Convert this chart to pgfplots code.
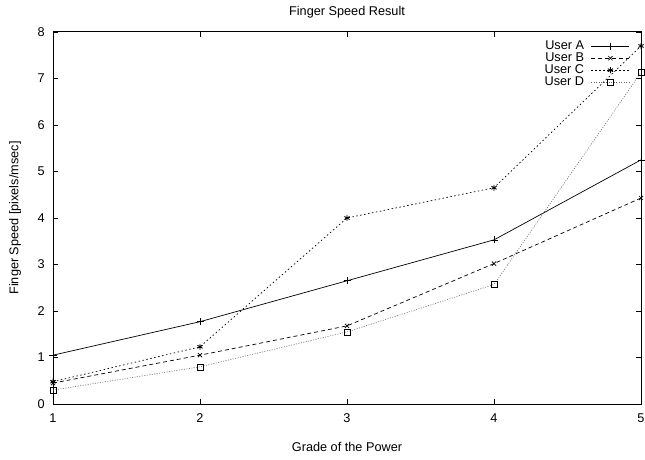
\documentclass[border=0pt]{standalone}
\usepackage{fontspec}
\setmainfont{Liberation Sans}
\usepackage{pgfplots}
\pgfplotsset{compat=1.18}
\begin{document}
\begin{tikzpicture}
\begin{axis}[
  scale only axis,
  width=588pt, height=372pt,
  xmin=1, xmax=5, ymin=0, ymax=8,
  xtick={1,2,3,4,5}, ytick={0,1,...,8},
  tick align=inside,
  major tick length=5pt,
  /pgf/number format/assume math mode=true,
  font=\fontsize{12.7}{14}\selectfont,
  title={Finger Speed Result},
  every axis title shift=0pt,
  title style={at={(axis description cs:0.5,1)}, anchor=base, yshift=16pt, inner sep=0pt},
  xlabel={Grade of the Power},
  ylabel={Finger Speed [pixels/msec]},
  xticklabel style={anchor=base, yshift=-18.5pt, inner sep=0pt},
  yticklabel style={anchor=east, xshift=-8pt, inner sep=0pt},
  xlabel style={at={(axis description cs:0.5,0)}, anchor=base, yshift=-47pt, inner sep=0pt},
  ylabel style={at={(axis description cs:0,0.5)}, anchor=center, yshift=38pt, inner sep=0pt},
  axis line style={line width=1pt},
  every tick/.style={black, line width=0.8pt},
  legend style={draw=none, fill=none, at={(rel axis cs:1,1)}, anchor=north east,
    xshift=-11pt, yshift=-8pt,
    row sep=0pt, column sep=7pt, inner sep=0pt, font=\fontsize{12.7}{12}\selectfont,
    nodes={inner xsep=0pt, inner ysep=0pt, text height=9pt, text depth=3pt}},
  legend plot pos=right,
  legend cell align=right,
  legend image code/.code={\draw[mark repeat=2, mark phase=2, #1] plot coordinates {(0pt,0pt) (19pt,0pt) (38pt,0pt)};},
]
\addplot[black, line width=0.7pt, mark=+, mark size=3.5pt] coordinates {(1,1.05) (2,1.77) (3,2.65) (4,3.53) (5,5.25)};
\addlegendentry{User A}
\addplot[black, line width=0.7pt, dash pattern=on 4pt off 3pt, mark=x, mark size=3pt, mark options={solid}] coordinates {(1,0.45) (2,1.05) (3,1.68) (4,3.02) (5,4.43)};
\addlegendentry{User B}
\addplot[black, line width=0.7pt, dash pattern=on 1.5pt off 2.5pt, mark=asterisk, mark size=3pt, mark options={solid, line width=0.9pt}] coordinates {(1,0.48) (2,1.23) (3,4.0) (4,4.65) (5,7.7)};
\addlegendentry{User C}
\addplot[black!60, line width=0.6pt, dash pattern=on 1pt off 1.5pt, mark=square, mark size=3pt, mark options={solid, black}] coordinates {(1,0.3) (2,0.8) (3,1.55) (4,2.57) (5,7.13)};
\addlegendentry{User D}
\end{axis}
\pgfresetboundingbox
\path (current axis.south west) ++(-53pt,-56pt) rectangle ++(645pt,460pt);
\end{tikzpicture}
\end{document}
